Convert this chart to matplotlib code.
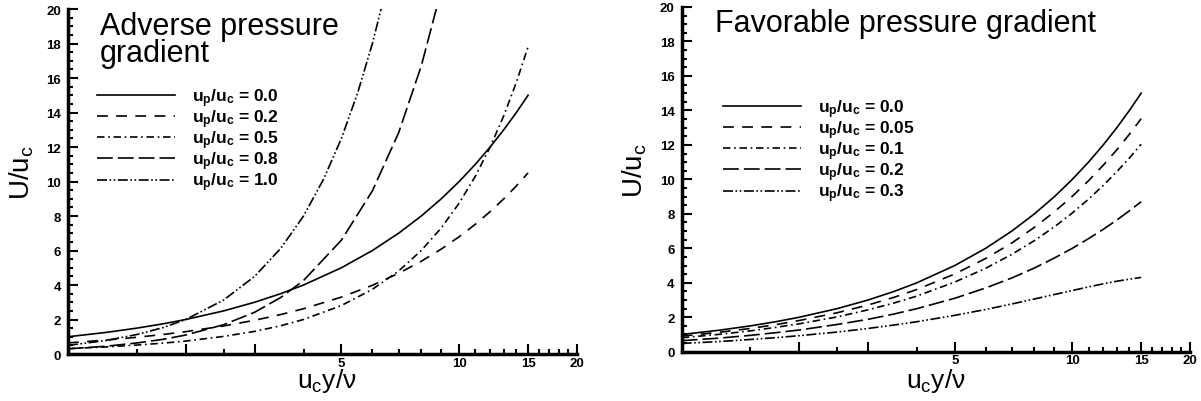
import matplotlib
matplotlib.use("Agg")
import matplotlib.pyplot as plt
from matplotlib.ticker import FixedLocator, NullFormatter, FixedFormatter

plt.rcParams['font.family'] = ['Liberation Sans', 'DejaVu Sans']
plt.rcParams['mathtext.fontset'] = 'custom'
plt.rcParams['mathtext.rm'] = 'Liberation Sans'
plt.rcParams['mathtext.it'] = 'Liberation Sans'
plt.rcParams['mathtext.bf'] = 'Liberation Sans:bold'

# Data
yplus = [1, 1.25, 1.5, 1.75, 2, 2.5, 3, 3.5, 4, 5, 6, 7, 8, 9, 10, 11, 12, 13, 14, 15]

adv_labels = ['0.0', '0.2', '0.5', '0.8', '1.0']
adv_00 = [1, 1.25, 1.5, 1.75, 2, 2.5, 3, 3.5, 4, 5, 6, 7, 8, 9, 10, 11, 12, 13, 14, 15]
adv_02 = [0.644, 0.806, 0.969, 1.132, 1.296, 1.625, 1.956, 2.289, 2.624, 3.3, 3.984,
          4.676, 5.376, 6.084, 6.8, 7.524, 8.256, 8.996, 9.744, 10.5]
adv_05 = [0.31, 0.41, 0.52, 0.63, 0.75, 1.02, 1.31, 1.64, 2.0, 2.81, 3.75, 4.81, 6.0,
          7.31, 8.75, 10.31, 12.0, 13.81, 15.75, 17.81]
adv_08_x = [1, 1.25, 1.5, 1.75, 2, 2.5, 3, 3.5, 4, 5, 6, 7, 8, 9]
adv_08 = [0.30, 0.45, 0.64, 0.85, 1.10, 1.70, 2.42, 3.28, 4.26, 6.6, 9.46, 12.82, 16.7, 21.1]
adv_10_x = [1, 1.25, 1.5, 1.75, 2, 2.5, 3, 3.5, 4, 4.5, 5, 5.5, 6, 6.5]
adv_10 = [0.5, 0.78, 1.13, 1.53, 2.0, 3.13, 4.5, 6.13, 8.0, 10.13, 12.5, 15.13, 18.0, 21.13]

fav_labels = ['0.0', '0.05', '0.1', '0.2', '0.3']
fav_00 = [1, 1.25, 1.5, 1.75, 2, 2.5, 3, 3.5, 4, 5, 6, 7, 8, 9, 10, 11, 12, 13, 14, 15]
fav_005 = [0.90, 1.13, 1.35, 1.58, 1.81, 2.26, 2.71, 3.16, 3.61, 4.51, 5.41, 6.31, 7.22,
           8.12, 9.02, 9.92, 10.82, 11.72, 12.62, 13.52]
fav_01 = [0.81, 1.01, 1.21, 1.42, 1.62, 2.02, 2.43, 2.83, 3.23, 4.04, 4.84, 5.65, 6.45,
          7.25, 8.05, 8.85, 9.65, 10.45, 11.24, 12.04]
fav_02 = [0.64, 0.79, 0.95, 1.11, 1.26, 1.58, 1.88, 2.19, 2.50, 3.1, 3.70, 4.28, 4.86,
          5.44, 6.0, 6.56, 7.10, 7.64, 8.18, 8.7]
fav_03 = [0.48, 0.59, 0.71, 0.82, 0.93, 1.14, 1.35, 1.55, 1.74, 2.11, 2.45, 2.77, 3.06,
          3.32, 3.55, 3.76, 3.94, 4.09, 4.21, 4.31]

styles = [
    '-',
    (0, (6.5, 5)),
    (0, (4.5, 2.2, 1, 2.2)),
    (0, (9.5, 3)),
    (0, (6, 1.5, 1, 1.5, 1, 1.5)),
]

fig = plt.figure(figsize=(12.01, 4.02), dpi=100)
ax1 = fig.add_axes([0.0566, 0.1169, 0.4238, 0.8582])
ax2 = fig.add_axes([0.5676, 0.1226, 0.4232, 0.8575])


def style_axes(ax):
    ax.set_xscale('log')
    ax.set_xlim(1, 20)
    ax.set_ylim(0, 20)
    for s in ['top', 'right']:
        ax.spines[s].set_visible(False)
    for s in ['left', 'bottom']:
        ax.spines[s].set_linewidth(2.5)
    ax.xaxis.set_major_locator(FixedLocator([2, 3, 5, 10, 15, 20]))
    ax.xaxis.set_major_formatter(FixedFormatter(['', '', '5', '10', '15', '20']))
    ax.xaxis.set_minor_locator(FixedLocator([1.5, 2.5, 4, 6, 7, 8, 9, 11, 12, 13, 14,
                                             16, 17, 18, 19]))
    ax.xaxis.set_minor_formatter(NullFormatter())
    ax.yaxis.set_major_locator(FixedLocator(range(0, 21, 2)))
    ax.yaxis.set_minor_locator(FixedLocator([v / 2 for v in range(0, 41)]))
    ax.tick_params(which='both', direction='in', width=1.5)
    ax.tick_params(which='major', length=7, labelsize=9.5)
    ax.tick_params(which='minor', length=3.5)
    ax.tick_params(axis='x', pad=2)
    ax.tick_params(axis='y', pad=5)
    for lab in ax.get_xticklabels() + ax.get_yticklabels():
        lab.set_fontweight('bold')
    ax.set_xlabel(r'u$_\mathrm{c}$y/ν', fontsize=19)
    ax.set_ylabel(r'U/u$_\mathrm{c}$', fontsize=20)
    ax.xaxis.label.set_va('top')
    ax.yaxis.label.set_va('center')


style_axes(ax1)
style_axes(ax2)

adv_x = [yplus, yplus, yplus, adv_08_x, adv_10_x]
adv_y = [adv_00, adv_02, adv_05, adv_08, adv_10]
for xs, ys, st, lab in zip(adv_x, adv_y, styles, adv_labels):
    ax1.plot(xs, ys, color='black', lw=1.2, linestyle=st,
             label=r'$\mathbf{u_p/u_c}$ = ' + lab)

fav_y = [fav_00, fav_005, fav_01, fav_02, fav_03]
for ys, st, lab in zip(fav_y, styles, fav_labels):
    ax2.plot(yplus, ys, color='black', lw=1.2, linestyle=st,
             label=r'$\mathbf{u_p/u_c}$ = ' + lab)

ax1.xaxis.set_label_coords(0.508, -0.036)
ax1.yaxis.set_label_coords(-0.09, 0.53)
ax2.xaxis.set_label_coords(0.50, -0.04)
ax2.yaxis.set_label_coords(-0.092, 0.527)

ax1.text(0.063, 0.9275, 'Adverse pressure', transform=ax1.transAxes,
         fontsize=22, va='baseline', ha='left')
ax1.text(0.063, 0.849, 'gradient', transform=ax1.transAxes,
         fontsize=22, va='baseline', ha='left')
ax2.text(0.0655, 0.930, 'Favorable pressure gradient', transform=ax2.transAxes,
         fontsize=22, va='baseline', ha='left')

leg_kw = dict(frameon=False, loc='upper left', borderpad=0, borderaxespad=0,
              handlelength=4.5, handletextpad=1.0, labelspacing=-0.08,
              prop={'size': 12.5, 'weight': 'bold'})
ax1.legend(bbox_to_anchor=(0.057, 0.777), **leg_kw)
ax2.legend(bbox_to_anchor=(0.081, 0.739), **leg_kw)

fig.savefig('out.png', dpi=100)
